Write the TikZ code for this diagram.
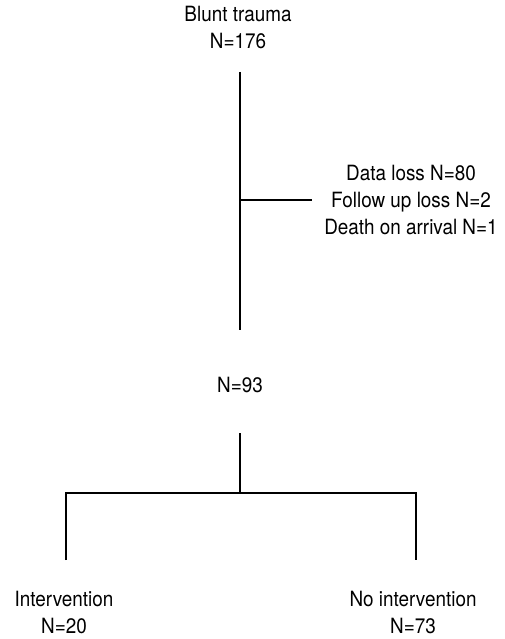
\documentclass[tikz,border=0pt]{standalone}
\usepackage{fontspec}
\setmainfont{TeX Gyre Heros}[FakeStretch=0.9]
\begin{document}
\begin{tikzpicture}[x=1pt,y=-1pt,
  lbl/.style={align=center,inner sep=0pt,font=\fontsize{21}{27}\selectfont},
  conn/.style={line width=1.6pt}]
\useasboundingbox (0,0) rectangle (504,639);
\node[lbl] (top) at (238,28) {Blunt trauma\\N=176};
\node[lbl] (loss) at (411,200.5) {Data loss N=80\\Follow up loss N=2\\Death on arrival N=1};
\node[lbl] (mid) at (240,384.5) {N=93};
\node[lbl] (left) at (64,612) {Intervention\\N=20};
\node[lbl] (right) at (413,612) {No intervention\\N=73};
\coordinate (t1) at (240,72);
\coordinate (t2) at (240,330);
\coordinate (b1) at (240,200);
\coordinate (b2) at (312,200);
\coordinate (m1) at (240,433);
\coordinate (m2) at (240,493);
\coordinate (l1) at (66,493);
\coordinate (l2) at (66,560);
\coordinate (r1) at (416,493);
\coordinate (r2) at (416,560);
\draw[conn] (t1) -- (t2);
\draw[conn] (b1) -- (b2);
\draw[conn] (m1) -- (m2);
\draw[conn] (l2) -- (l1) -- (r1) -- (r2);
\end{tikzpicture}
\end{document}
